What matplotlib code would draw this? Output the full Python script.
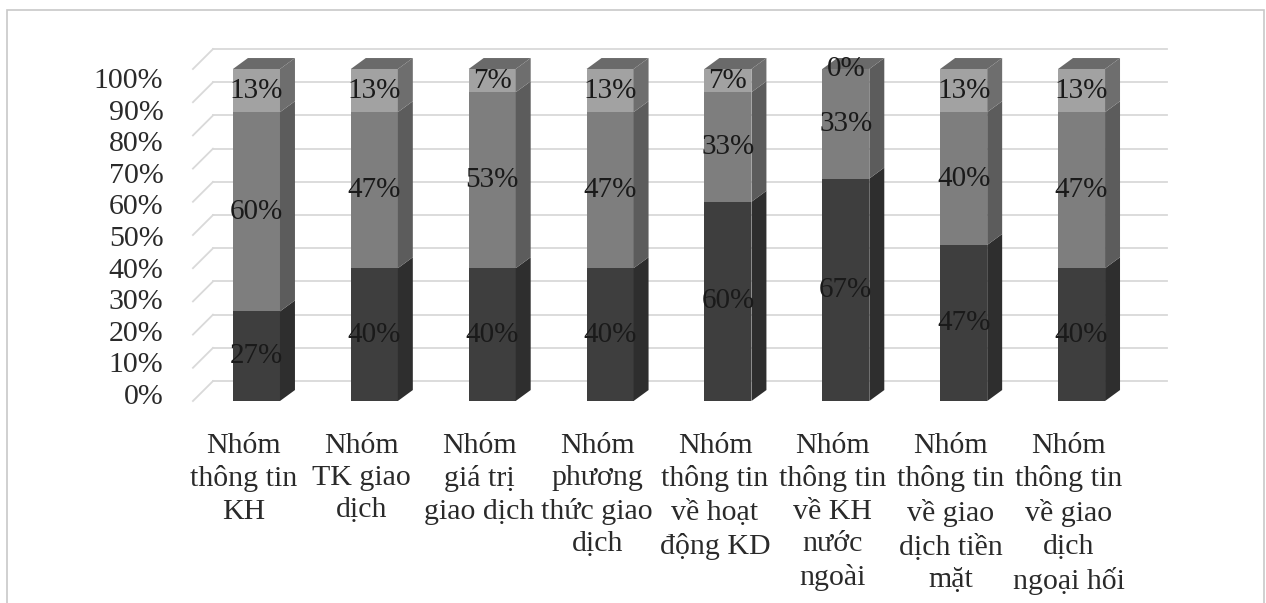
import numpy as np
import matplotlib
matplotlib.use("Agg")
import matplotlib.pyplot as plt
from matplotlib.patches import Polygon, Rectangle

plt.rcParams['font.family'] = ['Liberation Serif', 'DejaVu Serif']

categories = ["Nhóm\nthông tin\nKH", "Nhóm\nTK giao\ndịch", "Nhóm\ngiá trị\ngiao dịch",
              "Nhóm\nphương\nthức giao\ndịch", "Nhóm\nthông tin\nvề hoạt\nđộng KD",
              "Nhóm\nthông tin\nvề KH\nnước\nngoài", "Nhóm\nthông tin\nvề giao\ndịch tiền\nmặt",
              "Nhóm\nthông tin\nvề giao\ndịch\nngoại hối"]
low = [27, 40, 40, 40, 60, 67, 47, 40]
mid = [60, 47, 53, 47, 33, 33, 40, 47]
high = [13, 13, 7, 13, 7, 0, 13, 13]
yticks = [0, 10, 20, 30, 40, 50, 60, 70, 80, 90, 100]

# greyscale faces: (front, side)
faces = [("#3e3e3e", "#2e2e2e"), ("#7e7e7e", "#5c5c5c"), ("#a2a2a2", "#6e6e6e")]
top_col = "#6a6a6a"

fig = plt.figure(figsize=(12.66, 6.03), dpi=100)
ax = fig.add_axes([0, 0, 1, 1])
ax.set_xlim(-2.176, 8.565)
ax.set_ylim(-60.84, 120.78)
ax.axis("off")

w = 0.399      # bar width
dx, dy = 0.127, 3.3   # bar depth
wx0, wx1, wdy = -0.369, 7.725, 6.0   # back wall
sx = -0.539    # side wall front edge

grid = "#d9d9d9"
for v in yticks:
    ax.plot([wx0, wx1], [v + wdy, v + wdy], color=grid, lw=1.3, zorder=1)
    ax.plot([sx, wx0], [v, v + wdy], color=grid, lw=1.3, zorder=1)
    ax.text(-0.79, 1.2 + 0.952 * v, f"{v}%", ha="right", va="center",
            fontsize=21.5, color="#2a2a2a")

x = np.arange(len(categories))
series = [low, mid, high]
bottom = np.zeros(len(categories))
for s, vals in enumerate(series):
    front, side = faces[s]
    vals = np.array(vals, dtype=float)
    ax.bar(x, vals, bottom=bottom, width=w, color=front, zorder=3)
    for i in range(len(x)):
        b, h = bottom[i], vals[i]
        xr = x[i] + w / 2
        ax.add_patch(Polygon([(xr, b), (xr + dx, b + dy), (xr + dx, b + h + dy), (xr, b + h)],
                             closed=True, facecolor=side, edgecolor="none", zorder=3))
        ax.text(x[i], b + h / 2, f"{int(h)}%", ha="center", va="center",
                fontsize=21, color="#1a1a1a", zorder=5)
    bottom = bottom + vals

for i in range(len(x)):
    t = bottom[i]
    xl, xr = x[i] - w / 2, x[i] + w / 2
    ax.add_patch(Polygon([(xl, t), (xl + dx, t + dy), (xr + dx, t + dy), (xr, t)],
                         closed=True, facecolor=top_col, edgecolor="none", zorder=3))
    ax.text(x[i] - 0.11, -9.5, categories[i], ha="center", va="top",
            fontsize=21.5, color="#2a2a2a", linespacing=1.32)

fig.patches.append(Rectangle((7 / 1266, -0.02), 1 - 9 / 1266, 0.983 + 0.02,
                             transform=fig.transFigure, fill=False,
                             edgecolor="#c8c8c8", lw=1.2))

fig.savefig("out.png", dpi=100)
